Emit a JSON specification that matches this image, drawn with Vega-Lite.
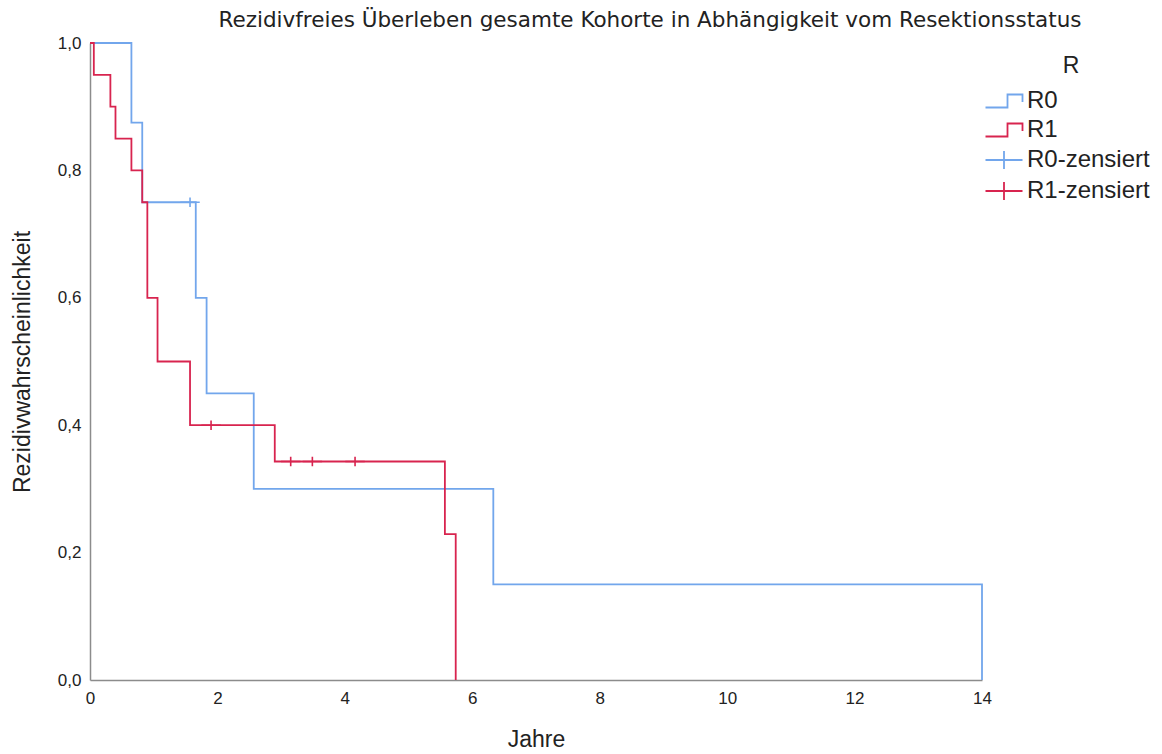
{
  "$schema": "https://vega.github.io/schema/vega-lite/v6.json",
  "width": 892,
  "height": 637,
  "autosize": {"type": "none"},
  "padding": {"left": 90, "top": 43, "right": 180, "bottom": 74},
  "background": "white",
  "title": {
    "text": "Rezidivfreies Überleben gesamte Kohorte in Abhängigkeit vom Resektionsstatus",
    "font": "DejaVu Sans",
    "fontSize": 21.5,
    "fontWeight": "normal",
    "color": "#222222",
    "anchor": "middle",
    "frame": "group",
    "dx": 114,
    "offset": 3
  },
  "config": {
    "view": {"stroke": null},
    "axis": {
      "domainColor": "#8c8c8c",
      "domainWidth": 1.5,
      "ticks": false,
      "grid": false,
      "labelFont": "Liberation Sans",
      "labelFontSize": 17,
      "labelColor": "#222222",
      "titleFont": "Liberation Sans",
      "titleFontSize": 23,
      "titleFontWeight": "normal",
      "titleColor": "#222222",
      "labelPadding": 9
    }
  },
  "datasets": {
    "curves": [
      {"group": "R0", "t": 0, "s": 1},
      {"group": "R0", "t": 0.65, "s": 0.875},
      {"group": "R0", "t": 0.82, "s": 0.75},
      {"group": "R0", "t": 1.66, "s": 0.6},
      {"group": "R0", "t": 1.83, "s": 0.45},
      {"group": "R0", "t": 2.57, "s": 0.3},
      {"group": "R0", "t": 6.33, "s": 0.15},
      {"group": "R0", "t": 14, "s": 0},
      {"group": "R1", "t": 0, "s": 1},
      {"group": "R1", "t": 0.06, "s": 0.95},
      {"group": "R1", "t": 0.32, "s": 0.9},
      {"group": "R1", "t": 0.4, "s": 0.85},
      {"group": "R1", "t": 0.65, "s": 0.8},
      {"group": "R1", "t": 0.82, "s": 0.75},
      {"group": "R1", "t": 0.9, "s": 0.6},
      {"group": "R1", "t": 1.06, "s": 0.5},
      {"group": "R1", "t": 1.57, "s": 0.4},
      {"group": "R1", "t": 2.9, "s": 0.343},
      {"group": "R1", "t": 5.57, "s": 0.229},
      {"group": "R1", "t": 5.74, "s": 0}
    ],
    "censored": [
      {"group": "R0-zensiert", "t": 1.57, "s": 0.75},
      {"group": "R1-zensiert", "t": 1.9, "s": 0.4},
      {"group": "R1-zensiert", "t": 3.15, "s": 0.343},
      {"group": "R1-zensiert", "t": 3.49, "s": 0.343},
      {"group": "R1-zensiert", "t": 4.16, "s": 0.343}
    ]
  },
  "encoding": {
    "x": {
      "field": "t",
      "type": "quantitative",
      "scale": {"domain": [0, 14], "nice": false},
      "axis": {"title": "Jahre", "values": [0, 2, 4, 6, 8, 10, 12, 14], "labelFlush": false, "labelPadding": 10, "titlePadding": 22}
    },
    "y": {
      "field": "s",
      "type": "quantitative",
      "scale": {"domain": [0, 1], "nice": false},
      "axis": {"title": "Rezidivwahrscheinlichkeit", "values": [0, 0.2, 0.4, 0.6, 0.8, 1], "labelExpr": "replace(format(datum.value, '.1f'), '.', ',')", "titlePadding": 23, "labelFlush": false}
    }
  },
  "layer": [
    {
      "data": {"name": "curves"},
      "transform": [{"filter": "datum.group === 'R0'"}],
      "mark": {"type": "line", "interpolate": "step-after", "color": "#72A6EC", "strokeWidth": 1.8}
    },
    {
      "data": {"name": "curves"},
      "transform": [{"filter": "datum.group === 'R1'"}],
      "mark": {"type": "line", "interpolate": "step-after", "color": "#D8244F", "strokeWidth": 1.8}
    },
    {
      "data": {"name": "censored"},
      "mark": {"type": "point", "filled": false, "strokeWidth": 1.6, "size": 110, "opacity": 1},
      "encoding": {
        "color": {
          "field": "group",
          "type": "nominal",
          "scale": {"domain": ["R0", "R1", "R0-zensiert", "R1-zensiert"], "range": ["#72A6EC", "#D8244F", "#72A6EC", "#D8244F"]},
          "legend": {
            "title": "R",
            "orient": "none",
            "legendX": 902,
            "legendY": 12,
            "padding": 0,
            "titleAnchor": "middle",
            "titleFont": "Liberation Sans",
            "titleFontSize": 23,
            "titleFontWeight": "normal",
            "titleColor": "#222222",
            "titlePadding": 11,
            "labelFont": "Liberation Sans",
            "labelFontSize": 24,
            "labelColor": "#222222",
            "labelOffset": 11,
            "symbolSize": 400,
            "symbolStrokeWidth": 1.8,
            "rowPadding": 5
          }
        },
        "shape": {
          "field": "group",
          "type": "nominal",
          "scale": {"domain": ["R0", "R1", "R0-zensiert", "R1-zensiert"], "range": ["M-1.85,0.65H0.35V-0.65H1.85V0.1", "M-1.85,0.65H0.35V-0.65H1.85V0.1", "M-1.85,0H1.85M0,-0.9V0.9", "M-1.85,0H1.85M0,-0.9V0.9"]},
          "legend": {
            "title": "R",
            "orient": "none",
            "legendX": 902,
            "legendY": 12,
            "padding": 0,
            "titleAnchor": "middle",
            "titleFont": "Liberation Sans",
            "titleFontSize": 23,
            "titleFontWeight": "normal",
            "titleColor": "#222222",
            "titlePadding": 11,
            "labelFont": "Liberation Sans",
            "labelFontSize": 24,
            "labelColor": "#222222",
            "labelOffset": 11,
            "symbolSize": 400,
            "symbolStrokeWidth": 1.8,
            "rowPadding": 5
          }
        }
      }
    }
  ]
}
